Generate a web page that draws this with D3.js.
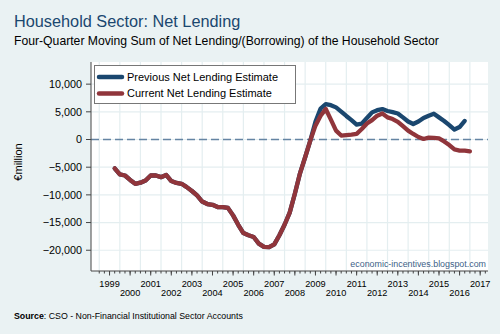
<!DOCTYPE html>
<html>
<head>
<meta charset="utf-8">
<script src="https://cdn.jsdelivr.net/npm/d3@7"></script>
<style>
  body { margin: 0; background: #eaf2f3; }
  svg { display: block; font-family: "Liberation Sans", Arial, sans-serif; }
</style>
</head>
<body>
<div id="chart"></div>
<script>
// quarters of the four-quarter moving sum
var quarters = [
  "1999Q4",
  "2000Q1","2000Q2","2000Q3","2000Q4",
  "2001Q1","2001Q2","2001Q3","2001Q4",
  "2002Q1","2002Q2","2002Q3","2002Q4",
  "2003Q1","2003Q2","2003Q3","2003Q4",
  "2004Q1","2004Q2","2004Q3","2004Q4",
  "2005Q1","2005Q2","2005Q3","2005Q4",
  "2006Q1","2006Q2","2006Q3","2006Q4",
  "2007Q1","2007Q2","2007Q3","2007Q4",
  "2008Q1","2008Q2","2008Q3","2008Q4",
  "2009Q1","2009Q2","2009Q3","2009Q4",
  "2010Q1","2010Q2","2010Q3","2010Q4",
  "2011Q1","2011Q2","2011Q3","2011Q4",
  "2012Q1","2012Q2","2012Q3","2012Q4",
  "2013Q1","2013Q2","2013Q3","2013Q4",
  "2014Q1","2014Q2","2014Q3","2014Q4",
  "2015Q1","2015Q2","2015Q3","2015Q4",
  "2016Q1","2016Q2","2016Q3","2016Q4",
  "2017Q1"
];

// €million
var currentEstimate = [
  -5200,
  -6300, -6500, -7300, -8000,
  -7800, -7400, -6500, -6500,
  -6800, -6400, -7500, -7850,
  -8000, -8600, -9300, -10100,
  -11200, -11650, -11800, -12200,
  -12200, -12350, -13700, -15400,
  -16900, -17300, -17600, -18800,
  -19400, -19450, -18950, -17300,
  -15400, -13200, -9800, -6100,
  -3200, -200, 2500, 4300,
  5500, 3600, 1600, 720,
  800, 900, 1030, 1900,
  2900, 3500, 4300, 4700,
  4000, 3700, 3200, 2400,
  1600, 1000, 450, 100,
  350, 300, 200, -350,
  -1000, -1800, -2000, -2000,
  -2150
];

var previousEstimate = [
  -5200,
  -6300, -6500, -7300, -8000,
  -7800, -7400, -6500, -6500,
  -6800, -6400, -7500, -7850,
  -8000, -8600, -9300, -10100,
  -11200, -11650, -11800, -12200,
  -12200, -12350, -13700, -15400,
  -16900, -17300, -17600, -18800,
  -19400, -19450, -18950, -17300,
  -15400, -13200, -9800, -6100,
  -3200, -200, 3200, 5600,
  6400, 6200, 5800, 5050,
  4250, 3500, 2700, 2850,
  3900, 4900, 5300, 5500,
  5150, 4950, 4700, 4000,
  3250, 2800, 3250, 3900,
  4300, 4650, 4000, 3350,
  2600, 1800, 2250, 3350
];

var yTicks = [10000, 5000, 0, -5000, -10000, -15000, -20000];
var xYears = d3.range(1999, 2018);
var seriesNames = ["Previous Net Lending Estimate", "Current Net Lending Estimate"];
var seriesColors = ["#1a476f", "#90353b"];

var width = 500, height = 334;
var plot = {left: 91, right: 488, top: 62, bottom: 271};

// "1999Q4" -> 1999.75
function quarterTime(q) {
  return +q.slice(0, 4) + (+q.slice(5) - 1) / 4;
}

var svg = d3.select("#chart").append("svg")
    .attr("width", width)
    .attr("height", height);

svg.append("rect")
    .attr("width", width)
    .attr("height", height)
    .attr("fill", "#eaf2f3");

var x = d3.scaleLinear().domain([1998.6, 2017.88]).range([plot.left, plot.right]);
var y = d3.scaleLinear().domain([-23750, 14000]).range([plot.bottom, plot.top]);

//titles
svg.append("text")
    .attr("x", 14)
    .attr("y", 27)
    .attr("font-size", 16.3)
    .attr("fill", "#1a476f")
    .text("Household Sector: Net Lending");

svg.append("text")
    .attr("x", 14)
    .attr("y", 45)
    .attr("font-size", 12.2)
    .attr("fill", "#000")
    .text("Four-Quarter Moving Sum of Net Lending/(Borrowing) of the Household Sector");

//plot region
svg.append("rect")
    .attr("x", plot.left)
    .attr("y", plot.top)
    .attr("width", plot.right - plot.left)
    .attr("height", plot.bottom - plot.top)
    .attr("fill", "#fff");

//grid
svg.selectAll(".hgrid")
    .data(yTicks)
    .enter()
    .append("line")
    .attr("class", "hgrid")
    .attr("x1", plot.left)
    .attr("x2", plot.right)
    .attr("y1", d => y(d))
    .attr("y2", d => y(d))
    .attr("stroke", "#e4eef0")
    .attr("stroke-width", 1.2);

svg.selectAll(".vgrid")
    .data(xYears)
    .enter()
    .append("line")
    .attr("class", "vgrid")
    .attr("x1", d => x(d))
    .attr("x2", d => x(d))
    .attr("y1", plot.top)
    .attr("y2", plot.bottom)
    .attr("stroke", "#e4eef0")
    .attr("stroke-width", 1.2);

//zero line
svg.append("line")
    .attr("x1", plot.left)
    .attr("x2", plot.right)
    .attr("y1", y(0))
    .attr("y2", y(0))
    .attr("stroke", "#6584a3")
    .attr("stroke-width", 1.5)
    .attr("stroke-dasharray", "8,4");

//lines
var line = d3.line()
    .x((d, i) => x(quarterTime(quarters[i])))
    .y(d => y(d));

[previousEstimate, currentEstimate].forEach(function (values, k) {
  svg.append("path")
      .datum(values)
      .attr("d", line)
      .attr("fill", "none")
      .attr("stroke", seriesColors[k])
      .attr("stroke-width", 4.3)
      .attr("stroke-linejoin", "round")
      .attr("stroke-linecap", "round");
});

//legend
var legend = svg.append("g");
legend.append("rect")
    .attr("x", 94.5)
    .attr("y", 65.5)
    .attr("width", 201)
    .attr("height", 38)
    .attr("fill", "#fff")
    .attr("stroke", "#777");

seriesNames.forEach(function (name, k) {
  var ly = 77 + k * 16.5;
  legend.append("line")
      .attr("x1", 99)
      .attr("x2", 122)
      .attr("y1", ly)
      .attr("y2", ly)
      .attr("stroke", seriesColors[k])
      .attr("stroke-width", 4.5)
      .attr("stroke-linecap", "round");
  legend.append("text")
      .attr("x", 127)
      .attr("y", ly)
      .attr("dy", "0.36em")
      .attr("font-size", 11)
      .text(name);
});

//watermark
svg.append("text")
    .attr("x", 486)
    .attr("y", 267)
    .attr("text-anchor", "end")
    .attr("font-size", 8.9)
    .attr("fill", "#3d5f87")
    .text("economic-incentives.blogspot.com");

//y axis
svg.append("line")
    .attr("x1", plot.left)
    .attr("x2", plot.left)
    .attr("y1", plot.top)
    .attr("y2", plot.bottom)
    .attr("stroke", "#444");

svg.selectAll(".ytick")
    .data(yTicks)
    .enter()
    .append("line")
    .attr("class", "ytick")
    .attr("x1", plot.left - 5)
    .attr("x2", plot.left)
    .attr("y1", d => y(d))
    .attr("y2", d => y(d))
    .attr("stroke", "#444");

svg.selectAll(".ylabel")
    .data(yTicks)
    .enter()
    .append("text")
    .attr("class", "ylabel")
    .attr("x", plot.left - 9)
    .attr("y", d => y(d))
    .attr("dy", "0.36em")
    .attr("text-anchor", "end")
    .attr("font-size", 10.8)
    .text(d => d3.format(",")(d));

svg.append("text")
    .attr("transform", "translate(22," + 162 + ") rotate(-90)")
    .attr("text-anchor", "middle")
    .attr("font-size", 11)
    .text("€million");

//x axis
svg.append("line")
    .attr("x1", plot.left)
    .attr("x2", plot.right)
    .attr("y1", plot.bottom)
    .attr("y2", plot.bottom)
    .attr("stroke", "#444");

var minorTicks = d3.range(1999, 2018, 0.25);
svg.selectAll(".xminor")
    .data(minorTicks)
    .enter()
    .append("line")
    .attr("class", "xminor")
    .attr("x1", d => x(d))
    .attr("x2", d => x(d))
    .attr("y1", plot.bottom)
    .attr("y2", plot.bottom + 2.5)
    .attr("stroke", "#444");

svg.selectAll(".xmajor")
    .data(xYears)
    .enter()
    .append("line")
    .attr("class", "xmajor")
    .attr("x1", d => x(d + 0.5))
    .attr("x2", d => x(d + 0.5))
    .attr("y1", plot.bottom)
    .attr("y2", plot.bottom + 4.5)
    .attr("stroke", "#444");

svg.selectAll(".xlabel")
    .data(xYears)
    .enter()
    .append("text")
    .attr("class", "xlabel")
    .attr("x", d => x(d + 0.5))
    .attr("y", (d, i) => i % 2 == 0 ? 286.5 : 296)
    .attr("text-anchor", "middle")
    .attr("font-size", 9.2)
    .text(d => d);

//source note
var source = svg.append("text")
    .attr("x", 14)
    .attr("y", 318.5)
    .attr("font-size", 8.8);
source.append("tspan").attr("font-weight", "bold").text("Source");
source.append("tspan").text(": CSO - Non-Financial Institutional Sector Accounts");
</script>
</body>
</html>
